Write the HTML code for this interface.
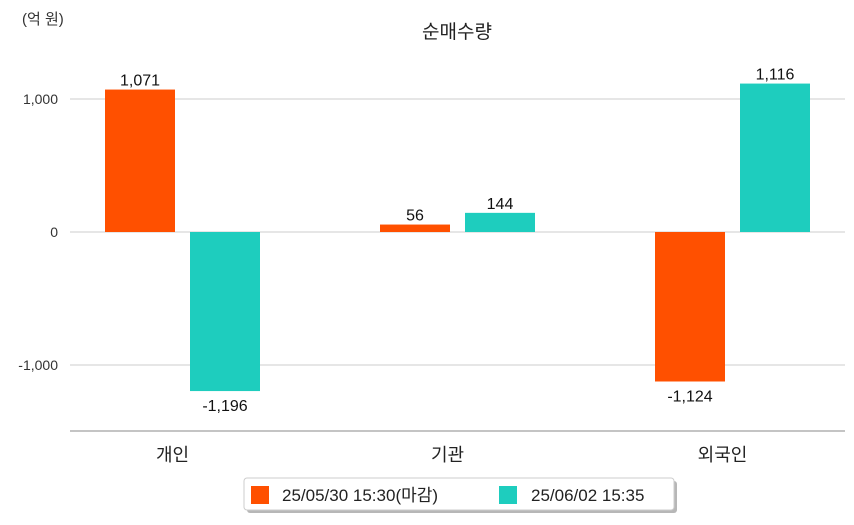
<!DOCTYPE html>
<html><head><meta charset="utf-8"><style>
body{margin:0;background:#fff;}
svg text{font-family:"Liberation Sans","Noto Sans CJK KR",sans-serif;}
</style></head><body>
<svg id="chart" width="854" height="520" viewBox="0 0 854 520" xmlns="http://www.w3.org/2000/svg">
<text x="22" y="24" font-size="15" fill="#333">(억 원)</text>
<text x="457" y="38" font-size="19" fill="#222" text-anchor="middle">순매수량</text>
<g id="grid"></g><g id="bars"></g>
<line x1="70" y1="431" x2="845" y2="431" stroke="#888" stroke-width="1"/>
<g>
<rect x="247" y="481" width="430" height="32" rx="3" fill="#999" opacity="0.7"/>
<rect x="244" y="478" width="430" height="32" rx="3" fill="#fff" stroke="#ccc"/>
<rect x="251" y="486" width="18" height="18" fill="#ff5000"/>
<text x="282" y="501" font-size="17" fill="#222">25/05/30 15:30(마감)</text>
<rect x="499" y="486" width="18" height="18" fill="#1ecdbe"/>
<text x="531" y="501" font-size="17" fill="#222">25/06/02 15:35</text>
</g>
</svg>
<script>
const categories=["개인","기관","외국인"];
const series0530=[1071,56,-1124];
const series0602=[-1196,144,1116];
const tickValues=[1000,0,-1000];
const tickLabels=["1,000","0","-1,000"];
const NS="http://www.w3.org/2000/svg";
const y=v=>232-v*0.133;
const gx=i=>182.5+i*275;
function mk(t,a,p){const e=document.createElementNS(NS,t);for(const k in a)e.setAttribute(k,a[k]);p.appendChild(e);return e;}
const grid=document.getElementById('grid'),bars=document.getElementById('bars');
tickValues.forEach((v,i)=>{
const l=mk('line',{x1:70,x2:845,y1:y(v),y2:y(v),stroke:'#ccc'},grid);


const t=mk('text',{x:58,y:y(v)+5,'font-size':14,fill:'#333','text-anchor':'end'},grid);


t.textContent=tickLabels[i];
});
const fmt=v=>v.toLocaleString('en-US');
function drawSeries(vals,off,color,name){
vals.forEach((v,i)=>{
const x=gx(i)+off-35;
const r=mk('rect',{x:x,width:70,y:Math.min(y(v),y(0)),height:Math.abs(y(v)-y(0)),fill:color},bars);


const t=mk('text',{x:x+35,y:v>=0?y(v)-4:y(v)+20,'font-size':16,fill:'#111','text-anchor':'middle'},bars);


t.textContent=fmt(v);
});
}
drawSeries(series0530,-42.5,'#ff5000','0530');
drawSeries(series0602,42.5,'#1ecdbe','0602');
categories.forEach((c,i)=>{
const t=mk('text',{x:gx(i)-10,y:461,'font-size':18,fill:'#222','text-anchor':'middle'},bars);


t.textContent=c;
});
</script>
</body></html>
